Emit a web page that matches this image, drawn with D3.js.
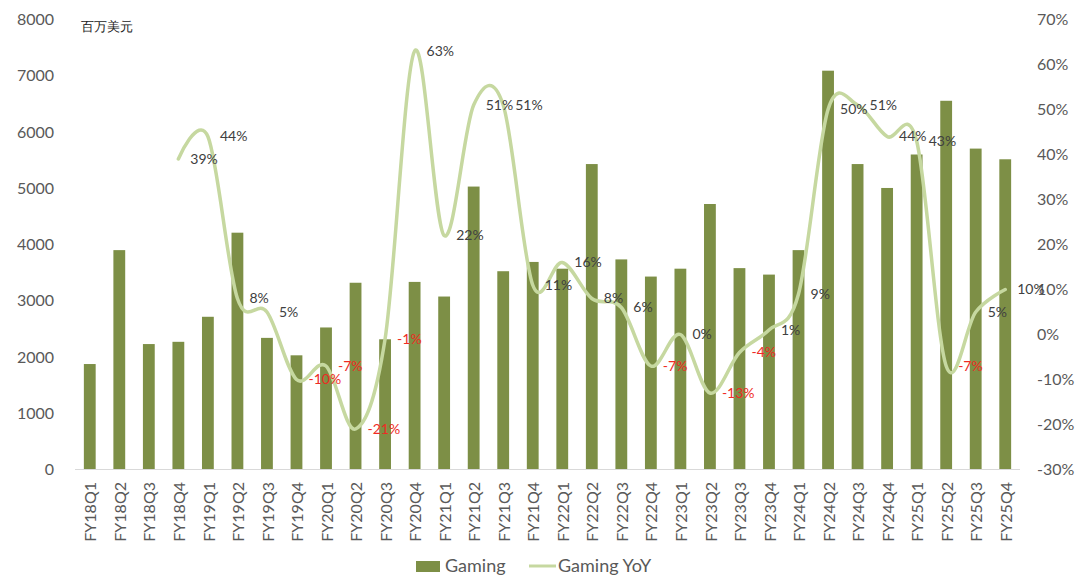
<!DOCTYPE html>
<html>
<head>
<meta charset="utf-8">
<script src="https://cdn.jsdelivr.net/npm/d3@7"></script>
<style>
  body { margin: 0; background: #fff; }
  text { font-family: Lato, "Open Sans", sans-serif; }
</style>
</head>
<body>
<div id="chart"></div>
<script>
var categories = ['FY18Q1','FY18Q2','FY18Q3','FY18Q4','FY19Q1','FY19Q2','FY19Q3','FY19Q4',
  'FY20Q1','FY20Q2','FY20Q3','FY20Q4','FY21Q1','FY21Q2','FY21Q3','FY21Q4',
  'FY22Q1','FY22Q2','FY22Q3','FY22Q4','FY23Q1','FY23Q2','FY23Q3','FY23Q4',
  'FY24Q1','FY24Q2','FY24Q3','FY24Q4','FY25Q1','FY25Q2','FY25Q3','FY25Q4'];

// 百万美元
var gaming = [1875, 3900, 2230, 2270, 2715, 4210, 2340, 2030,
  2525, 3320, 2315, 3335, 3075, 5030, 3525, 3690,
  3570, 5430, 3735, 3430, 3570, 4720, 3580, 3465,
  3900, 7090, 5430, 5005, 5600, 6555, 5705, 5515];

// %
var gamingYoY = [null, null, null, 39, 44, 8, 5, -10,
  -7, -21, -1, 63, 22, 51, 51, 11,
  16, 8, 6, -7, 0, -13, -4, 1,
  9, 50, 51, 44, 43, -7, 5, 10];

var leftTicks = [0, 1000, 2000, 3000, 4000, 5000, 6000, 7000, 8000];
var rightTicks = [-30, -20, -10, 0, 10, 20, 30, 40, 50, 60, 70];

var width = 1080, height = 580;
var barColor = '#7d8f46', lineColor = '#c6d8a0';

var svg = d3.select('#chart').append('svg')
  .attr('width', width)
  .attr('height', height);

var x = d3.scaleBand().domain(categories).range([75, 1020])
  .paddingInner(0.6).paddingOuter(0.3);
var yL = d3.scaleLinear().domain([0, 8000]).range([469.5, 19.5]);
var yR = d3.scaleLinear().domain([-30, 70]).range([469.5, 19.5]);
var cx = function (d) { return x(d) + x.bandwidth() / 2; };

// left axis
var axL = svg.append('g').attr('transform', 'translate(54,0)')
  .call(d3.axisLeft(yL).tickValues(leftTicks).tickSize(0).tickPadding(0)
    .tickFormat(d3.format('d')));
axL.select('.domain').remove();
axL.selectAll('text').attr('font-size', 16).attr('fill', '#595959')
  .attr('font-family', 'Lato, sans-serif');

// right axis
var axR = svg.append('g').attr('transform', 'translate(1037,0)')
  .call(d3.axisRight(yR).tickValues(rightTicks).tickSize(0).tickPadding(0)
    .tickFormat(function (d) { return d + '%'; }));
axR.select('.domain').remove();
axR.selectAll('text').attr('font-size', 16).attr('fill', '#595959')
  .attr('font-family', 'Lato, sans-serif');

// bars
svg.append('g').selectAll('rect').data(categories)
  .enter().append('rect')
  .attr('x', function (d) { return x(d); })
  .attr('width', x.bandwidth())
  .attr('y', function (d, i) { return yL(gaming[i]); })
  .attr('height', function (d, i) { return yL(0) - yL(gaming[i]); })
  .attr('fill', barColor);

// baseline + category labels
svg.append('line')
  .attr('x1', 75).attr('x2', 1020)
  .attr('y1', yL(0)).attr('y2', yL(0))
  .attr('stroke', '#d9d9d9').attr('stroke-width', 1);

svg.append('g').selectAll('text').data(categories)
  .enter().append('text')
  .attr('transform', function (d) { return 'translate(' + (cx(d) + 1) + ',482) rotate(-90)'; })
  .attr('text-anchor', 'end')
  .attr('dy', '0.35em')
  .attr('font-size', 16)
  .attr('fill', '#595959')
  .text(function (d) { return d; });

// YoY line
var yoyPts = categories.map(function (d, i) { return { c: d, v: gamingYoY[i] }; });
var line = d3.line()
  .defined(function (d) { return d.v !== null; })
  .x(function (d) { return cx(d.c); })
  .y(function (d) { return yR(d.v); })
  .curve(d3.curveCatmullRom.alpha(0));

svg.append('path')
  .datum(yoyPts)
  .attr('d', line)
  .attr('fill', 'none')
  .attr('stroke', lineColor)
  .attr('stroke-width', 3.5)
  .attr('stroke-linecap', 'round');

// data labels (right of each point, as in the source)
svg.append('g').selectAll('text')
  .data(yoyPts.filter(function (d) { return d.v !== null; }))
  .enter().append('text')
  .attr('x', function (d) { return cx(d.c) + 12; })
  .attr('y', function (d) { return yR(d.v); })
  .attr('dy', '0.35em')
  .attr('font-size', 14)
  .attr('fill', function (d) { return d.v < 0 ? '#ee2b24' : '#404040'; })
  .text(function (d) { return d.v + '%'; });

// unit
svg.append('text')
  .attr('x', 81).attr('y', 26).attr('dy', '0.35em')
  .attr('font-size', 13)
  .attr('font-family', '"Noto Sans CJK SC", sans-serif')
  .attr('font-weight', 500)
  .attr('fill', '#222')
  .text('百万美元');

// legend
var lg = svg.append('g');
lg.append('rect').attr('x', 416).attr('y', 561).attr('width', 24).attr('height', 11).attr('fill', barColor);
lg.append('text').attr('x', 445).attr('y', 566).attr('dy', '0.35em')
  .attr('font-size', 18).attr('fill', '#595959').text('Gaming');
lg.append('line').attr('x1', 529).attr('x2', 556).attr('y1', 566).attr('y2', 566)
  .attr('stroke', lineColor).attr('stroke-width', 3);
lg.append('text').attr('x', 558).attr('y', 566).attr('dy', '0.35em')
  .attr('font-size', 18).attr('fill', '#595959').text('Gaming YoY');
</script>
</body>
</html>
